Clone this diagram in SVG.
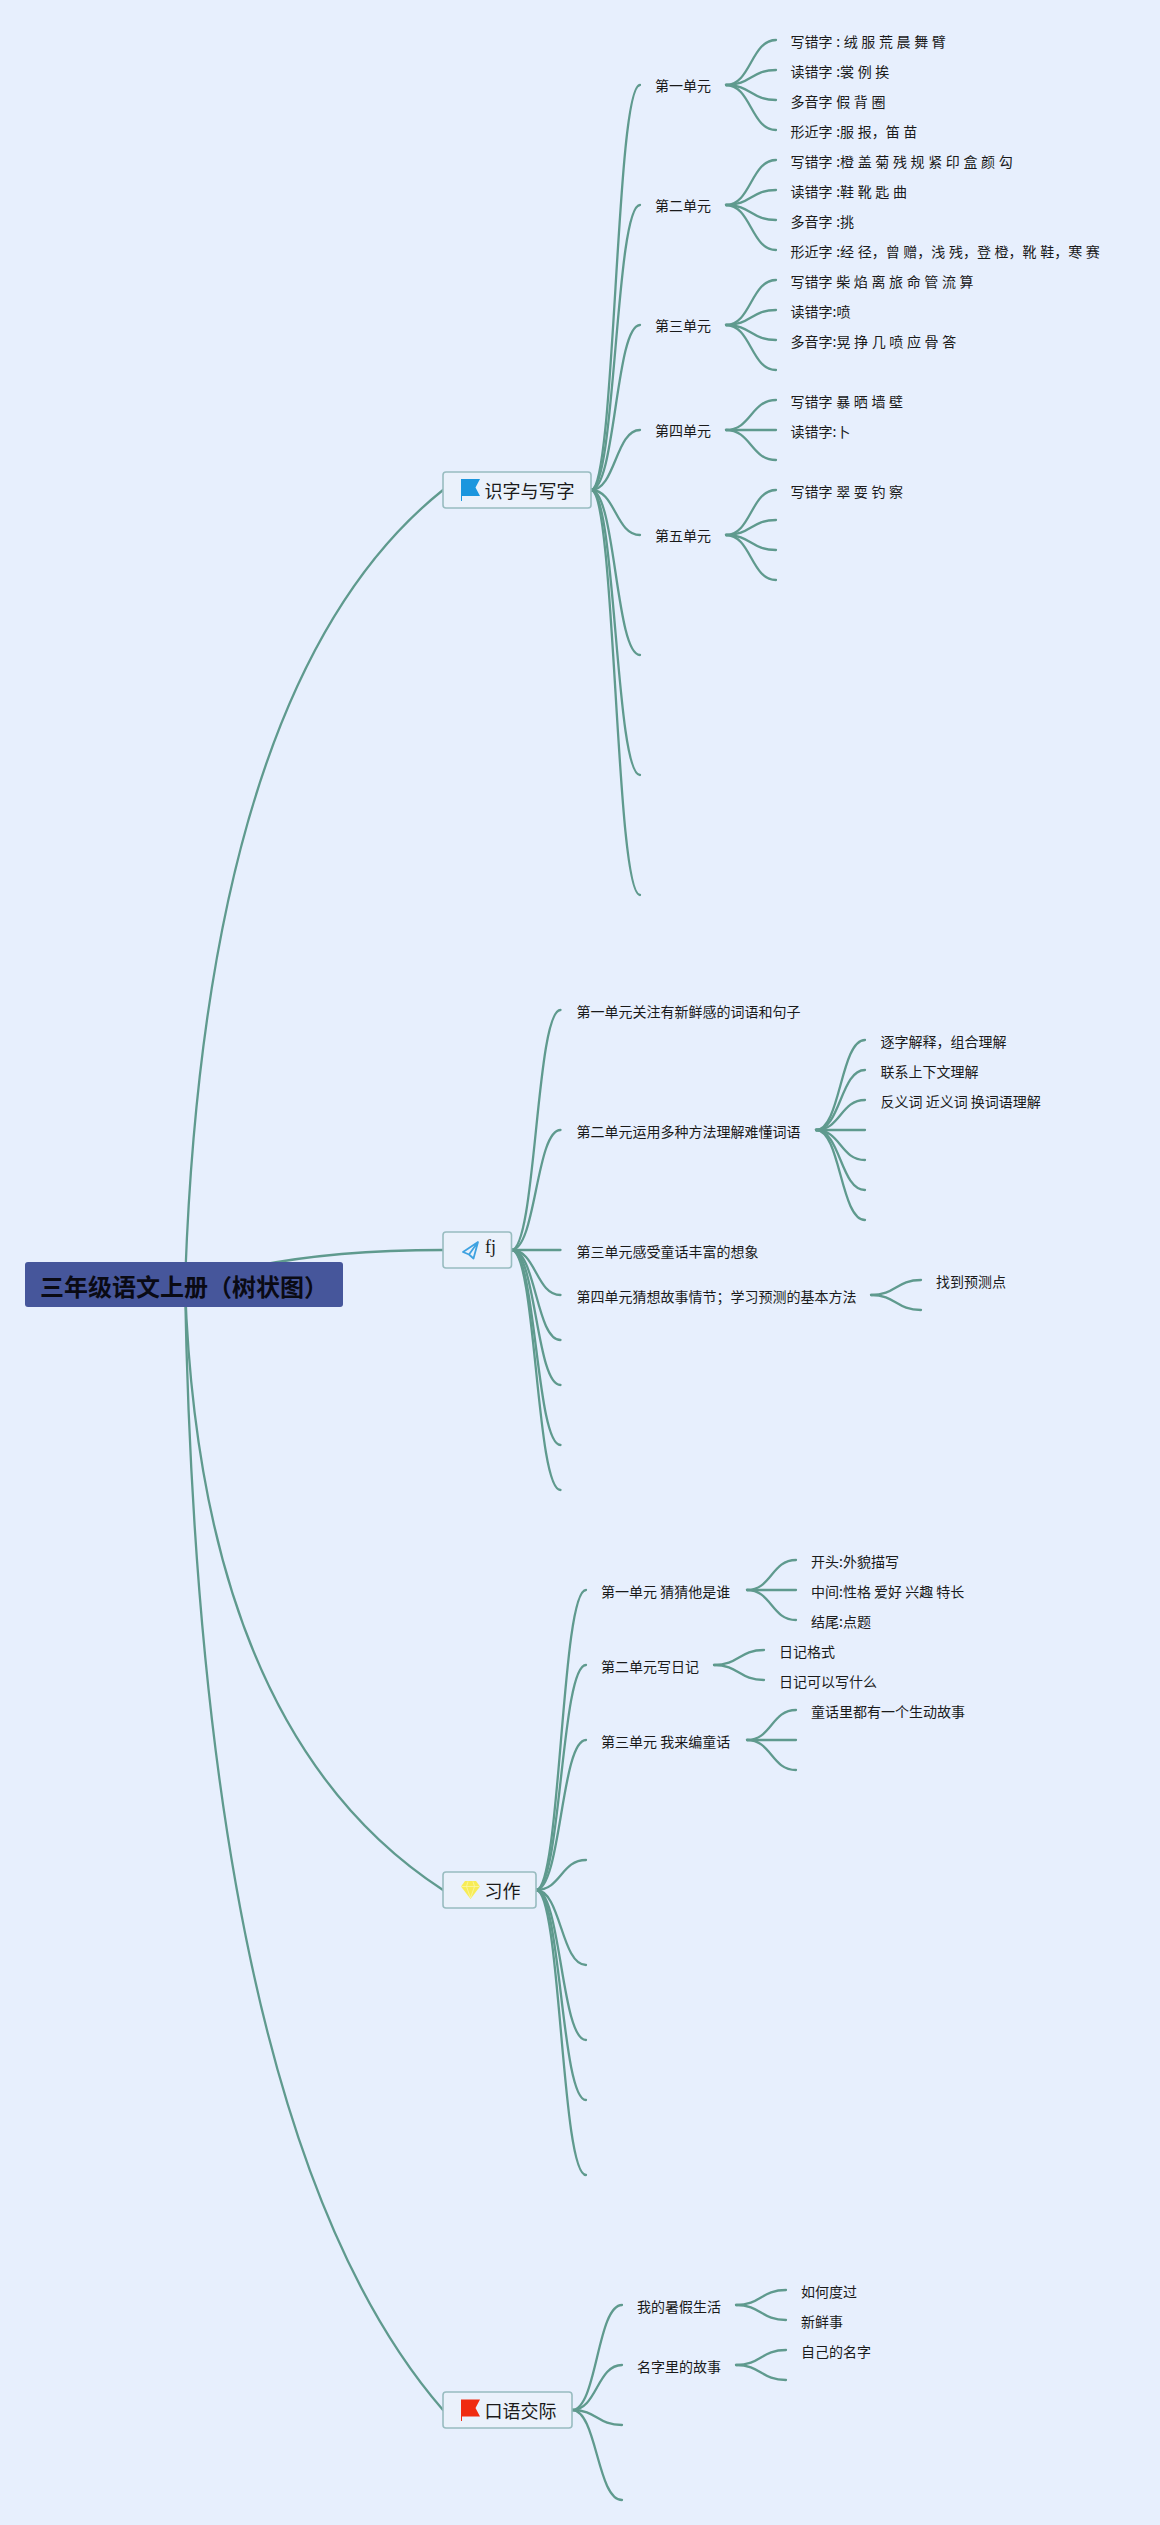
<svg xmlns="http://www.w3.org/2000/svg" width="1160" height="2525" viewBox="0 0 1160 2525">
<style>
text{font-family:"Noto Sans CJK SC","Noto Sans",sans-serif;fill:#1a1a1a;font-size:14px}
.w{word-spacing:.5px}
.c path{fill:none;stroke:#5f9a8e;stroke-width:2.3;stroke-linecap:round}
.m{fill:#eaf1fb;stroke:#98bcc0;stroke-width:1.6}
.t{font-size:18px}
.r{font-size:24px;font-weight:bold;fill:#0a0a14}
</style>
<rect width="1160" height="2525" fill="#e7effd"/>
<g id="connectors" class="c">
<path d="M185 1285Q205 680 443 490"/>
<path d="M185 1285C250 1262 340 1250 443 1250"/>
<path d="M185 1285Q200 1732 443 1890"/>
<path d="M185 1285Q200 2130 443 2410"/>
<path d="M591 490C615.5 490 615.5 85 640 85"/>
<path d="M591 490C615.5 490 615.5 205 640 205"/>
<path d="M591 490C615.5 490 615.5 325 640 325"/>
<path d="M591 490C615.5 490 615.5 430 640 430"/>
<path d="M591 490C615.5 490 615.5 535 640 535"/>
<path d="M591 490C615.5 490 615.5 655 640 655"/>
<path d="M591 490C615.5 490 615.5 775 640 775"/>
<path d="M591 490C615.5 490 615.5 895 640 895"/>
<path d="M726 85C751 85 751 40 776 40"/>
<path d="M726 85C751 85 751 70 776 70"/>
<path d="M726 85C751 85 751 100 776 100"/>
<path d="M726 85C751 85 751 130 776 130"/>
<path d="M726 205C751 205 751 160 776 160"/>
<path d="M726 205C751 205 751 190 776 190"/>
<path d="M726 205C751 205 751 220 776 220"/>
<path d="M726 205C751 205 751 250 776 250"/>
<path d="M726 325C751 325 751 280 776 280"/>
<path d="M726 325C751 325 751 310 776 310"/>
<path d="M726 325C751 325 751 340 776 340"/>
<path d="M726 325C751 325 751 370 776 370"/>
<path d="M726 430C751 430 751 400 776 400"/>
<path d="M726 430L776 430"/>
<path d="M726 430C751 430 751 460 776 460"/>
<path d="M726 535C751 535 751 490 776 490"/>
<path d="M726 535C751 535 751 520 776 520"/>
<path d="M726 535C751 535 751 550 776 550"/>
<path d="M726 535C751 535 751 580 776 580"/>
<path d="M511.5 1250C536 1250 536 1010 560.5 1010"/>
<path d="M511.5 1250C536 1250 536 1130 560.5 1130"/>
<path d="M511.5 1250L560.5 1250"/>
<path d="M511.5 1250C536 1250 536 1295 560.5 1295"/>
<path d="M511.5 1250C536 1250 536 1340 560.5 1340"/>
<path d="M511.5 1250C536 1250 536 1385 560.5 1385"/>
<path d="M511.5 1250C536 1250 536 1445 560.5 1445"/>
<path d="M511.5 1250C536 1250 536 1490 560.5 1490"/>
<path d="M816 1130C840.5 1130 840.5 1040 865 1040"/>
<path d="M816 1130C840.5 1130 840.5 1070 865 1070"/>
<path d="M816 1130C840.5 1130 840.5 1100 865 1100"/>
<path d="M816 1130L865 1130"/>
<path d="M816 1130C840.5 1130 840.5 1160 865 1160"/>
<path d="M816 1130C840.5 1130 840.5 1190 865 1190"/>
<path d="M816 1130C840.5 1130 840.5 1220 865 1220"/>
<path d="M871 1295C896 1295 896 1280 921 1280"/>
<path d="M871 1295C896 1295 896 1310 921 1310"/>
<path d="M536 1890C561 1890 561 1590 586 1590"/>
<path d="M536 1890C561 1890 561 1665 586 1665"/>
<path d="M536 1890C561 1890 561 1740 586 1740"/>
<path d="M536 1890C561 1890 561 1860 586 1860"/>
<path d="M536 1890C561 1890 561 1965 586 1965"/>
<path d="M536 1890C561 1890 561 2040 586 2040"/>
<path d="M536 1890C561 1890 561 2100 586 2100"/>
<path d="M536 1890C561 1890 561 2175 586 2175"/>
<path d="M747 1590C771.5 1590 771.5 1560 796 1560"/>
<path d="M747 1590L796 1590"/>
<path d="M747 1590C771.5 1590 771.5 1620 796 1620"/>
<path d="M714 1665C739 1665 739 1650 764 1650"/>
<path d="M714 1665C739 1665 739 1680 764 1680"/>
<path d="M747 1740C771.5 1740 771.5 1710 796 1710"/>
<path d="M747 1740L796 1740"/>
<path d="M747 1740C771.5 1740 771.5 1770 796 1770"/>
<path d="M572 2410C597 2410 597 2305 622 2305"/>
<path d="M572 2410C597 2410 597 2365 622 2365"/>
<path d="M572 2410C597 2410 597 2425 622 2425"/>
<path d="M572 2410C597 2410 597 2500 622 2500"/>
<path d="M736 2305C761 2305 761 2290 786 2290"/>
<path d="M736 2305C761 2305 761 2320 786 2320"/>
<path d="M736 2365C761 2365 761 2350 786 2350"/>
<path d="M736 2365C761 2365 761 2380 786 2380"/>
</g>
<g id="root"><rect x="25" y="1262" width="318" height="45" rx="3" fill="#46569b"/><text class="r" x="40" y="1296">三年级语文上册（树状图）</text></g>
<g id="n-shizi"><rect class="m" x="443" y="472" width="148" height="36" rx="3"/><path d="M461 479H480L475.500 487.500L480 496H462V501H461Z" fill="#1b96de"/><text class="t" x="484.500" y="498">识字与写字</text></g>
<g id="n-fj"><rect class="m" x="443" y="1232" width="68.500" height="36" rx="3"/><path d="M478 1242L463 1252L469 1254.500L473.500 1258.500ZM469 1254.500L478 1242" fill="none" stroke="#3ea2e0" stroke-width="1.800" stroke-linejoin="round"/><text class="t" x="485" y="1253" style="font-family:'Liberation Serif',serif">fj</text></g>
<g id="n-xizuo"><rect class="m" x="443" y="1872" width="93" height="36" rx="3"/><path d="M465 1881H476L480 1886.500L470.500 1899L461 1886.500Z" fill="#f7ec55"/><path d="M461.500 1886.500H479.500M466.500 1886.500L470.500 1898L474.500 1886.500M468 1881.500L466.500 1886.500M473 1881.500L474.500 1886.500" fill="none" stroke="#fbf6a6" stroke-width=".8"/><text class="t" x="484.500" y="1898">习作</text></g>
<g id="n-kouyu"><rect class="m" x="443" y="2392" width="129" height="36" rx="3"/><path d="M461 2399.500H480L475.500 2408L480 2416.500H462V2421H461Z" fill="#f02b10"/><text class="t" x="484.500" y="2418">口语交际</text></g>
<g id="s1"><text x="655" y="91">第一单元</text></g>
<g id="s1-1"><text class="w" x="790.500" y="46.500">写错字 : 绒 服 荒 晨 舞 臂</text></g>
<g id="s1-2"><text class="w" x="790.500" y="76.500">读错字 :裳 例 挨</text></g>
<g id="s1-3"><text class="w" x="790.500" y="106.500">多音字 假 背 圈</text></g>
<g id="s1-4"><text class="w" x="790.500" y="136.500">形近字 :服 报，笛 苗</text></g>
<g id="s2"><text x="655" y="211">第二单元</text></g>
<g id="s2-1"><text class="w" x="790.500" y="166.500">写错字 :橙 盖 菊 残 规 紧 印 盒 颜 勾</text></g>
<g id="s2-2"><text class="w" x="790.500" y="196.500">读错字 :鞋 靴 匙 曲</text></g>
<g id="s2-3"><text class="w" x="790.500" y="226.500">多音字 :挑</text></g>
<g id="s2-4"><text class="w" x="790.500" y="256.500">形近字 :经 径，曾 赠，浅 残，登 橙，靴 鞋，寒 赛</text></g>
<g id="s3"><text x="655" y="331">第三单元</text></g>
<g id="s3-1"><text class="w" x="790.500" y="286.500">写错字 柴 焰 离 旅 命 管 流 算</text></g>
<g id="s3-2"><text class="w" x="790.500" y="316.500">读错字:喷</text></g>
<g id="s3-3"><text class="w" x="790.500" y="346.500">多音字:晃 挣 几 喷 应 骨 答</text></g>
<g id="s4"><text x="655" y="436">第四单元</text></g>
<g id="s4-1"><text class="w" x="790.500" y="406.500">写错字 暴 晒 墙 壁</text></g>
<g id="s4-2"><text class="w" x="790.500" y="436.500">读错字:卜</text></g>
<g id="s5"><text x="655" y="541">第五单元</text></g>
<g id="s5-1"><text class="w" x="790.500" y="496.500">写错字 翠 耍 钓 察</text></g>
<g id="f1"><text x="576.500" y="1016.500">第一单元关注有新鲜感的词语和句子</text></g>
<g id="f2"><text x="576.500" y="1136.500">第二单元运用多种方法理解难懂词语</text></g>
<g id="f2-1"><text x="880.500" y="1046.500">逐字解释，组合理解</text></g>
<g id="f2-2"><text x="880.500" y="1076.500">联系上下文理解</text></g>
<g id="f2-3"><text x="880.500" y="1106.500">反义词 近义词 换词语理解</text></g>
<g id="f3"><text x="576.500" y="1256.500">第三单元感受童话丰富的想象</text></g>
<g id="f4"><text x="576.500" y="1301.500">第四单元猜想故事情节；学习预测的基本方法</text></g>
<g id="f4-1"><text x="936" y="1286.500">找到预测点</text></g>
<g id="x1"><text x="601" y="1596.500">第一单元 猜猜他是谁</text></g>
<g id="x1-1"><text x="811" y="1566.500">开头:外貌描写</text></g>
<g id="x1-2"><text x="811" y="1596.500">中间:性格 爱好 兴趣 特长</text></g>
<g id="x1-3"><text x="811" y="1626.500">结尾:点题</text></g>
<g id="x2"><text x="601" y="1671.500">第二单元写日记</text></g>
<g id="x2-1"><text x="779" y="1656.500">日记格式</text></g>
<g id="x2-2"><text x="779" y="1686.500">日记可以写什么</text></g>
<g id="x3"><text x="601" y="1746.500">第三单元 我来编童话</text></g>
<g id="x3-1"><text x="811" y="1716.500">童话里都有一个生动故事</text></g>
<g id="k1"><text x="637" y="2311.500">我的暑假生活</text></g>
<g id="k1-1"><text x="801" y="2296.500">如何度过</text></g>
<g id="k1-2"><text x="801" y="2326.500">新鲜事</text></g>
<g id="k2"><text x="637" y="2371.500">名字里的故事</text></g>
<g id="k2-1"><text x="801" y="2356.500">自己的名字</text></g>
</svg>
